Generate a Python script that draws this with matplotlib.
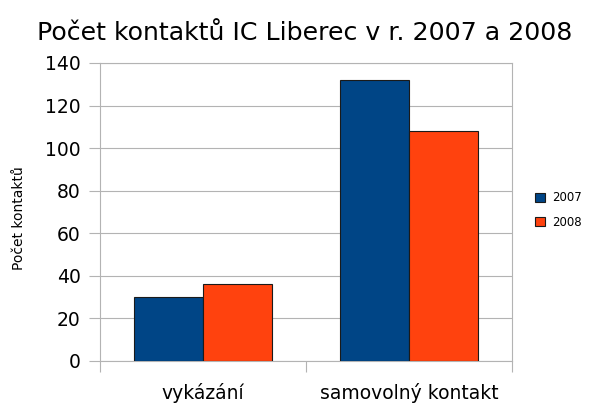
import matplotlib.pyplot as plt
import numpy as np

plt.rcParams['font.family'] = ['DejaVu Sans']

categories = ['vykázání', 'samovolný kontakt']
series_names = ['2007', '2008']
values_2007 = [30, 132]
values_2008 = [36, 108]
colors = ['#004586', '#ff420e']

fig = plt.figure(figsize=(5.89, 4.05), dpi=100)
ax = fig.add_axes([100 / 589, 1 - 361 / 405, 412 / 589, 298 / 405])

x = np.arange(len(categories))
w = 0.337
ax.bar(x - w / 2, values_2007, w, color=colors[0], edgecolor='#1a1a1a', linewidth=0.8, label=series_names[0], zorder=3)
ax.bar(x + w / 2, values_2008, w, color=colors[1], edgecolor='#1a1a1a', linewidth=0.8, label=series_names[1], zorder=3)

ax.set_xlim(-0.5, len(categories) - 0.5)
ax.set_ylim(0, 140)
ax.set_yticks(range(0, 141, 20))
ax.yaxis.grid(True, color='#b3b3b3', linewidth=0.8, zorder=0)

# category labels between boundary ticks
ax.set_xticks(np.arange(-0.5, len(categories), 1.0))
ax.set_xticklabels([])
ax.set_xticks(x, minor=True)
ax.set_xticklabels(categories, minor=True, fontsize=13.5)
ax.tick_params(axis='x', which='minor', length=0, pad=16)
ax.tick_params(axis='x', which='major', length=8, color='#b3b3b3', width=0.8)
ax.tick_params(axis='y', length=8, color='#b3b3b3', width=0.8, labelsize=13.5, pad=6)

for s in ax.spines.values():
    s.set_color('#b3b3b3')
    s.set_linewidth(0.8)

ax.set_ylabel('Počet kontaktů', fontsize=10)
ax.yaxis.set_label_coords(-74 / 412, 0.48)
fig.suptitle('Počet kontaktů IC Liberec v r. 2007 a 2008', fontsize=18.2, x=305 / 589, y=1 - 33 / 405, va='center')

ax.legend(loc='center left', bbox_to_anchor=(1.03, 0.507), frameon=False, fontsize=8.5,
          handlelength=0.85, handleheight=0.85, handletextpad=0.6, labelspacing=0.95)

fig.savefig('out.png', dpi=100)
